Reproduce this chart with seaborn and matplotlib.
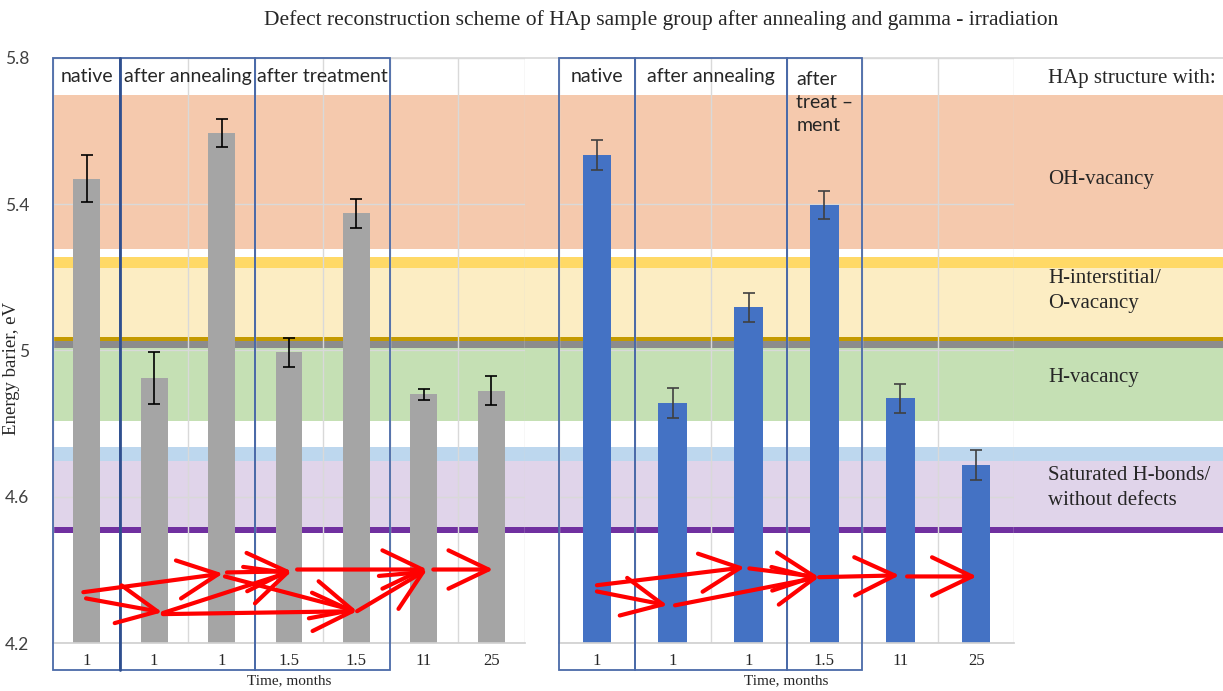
import numpy as np
import pandas as pd
import matplotlib
matplotlib.use('Agg')
import matplotlib.pyplot as plt
import matplotlib.transforms as mtransforms
from matplotlib.patches import Rectangle
import seaborn as sns

# Bars (energy barrier, eV, with error)
gray_times = ['1', '1', '1', '1.5', '1.5', '11', '25']
gray_energy = [5.47, 4.925, 5.595, 4.995, 5.375, 4.88, 4.89]
gray_err = [0.065, 0.07, 0.038, 0.04, 0.04, 0.015, 0.04]

blue_times = ['1', '1', '1', '1.5', '11', '25']
blue_energy = [5.535, 4.856, 5.118, 5.397, 4.869, 4.687]
blue_err = [0.04, 0.041, 0.04, 0.038, 0.04, 0.04]

# stage boxes: first bar, last bar, label
gray_stages = [(0, 0, 'native'), (1, 2, 'after annealing'), (3, 4, 'after treatment')]
blue_stages = [(0, 0, 'native'), (1, 2, 'after annealing'), (3, 3, 'after\ntreat –\nment')]

# coloured energy bands behind the bars
band_low = [5.278, 5.226, 5.038, 5.027, 5.008, 4.807, 4.698, 4.518, 4.500]
band_high = [5.700, 5.256, 5.226, 5.038, 5.027, 5.008, 4.736, 4.698, 4.518]
band_colors = ['#F5C9AD', '#FFD966', '#FCEDC3', '#C49A00', '#8C8C8C',
               '#C5E0B4', '#BDD7EE', '#E0D4EA', '#7030A0']

band_names = ['HAp structure with:', 'OH-vacancy', 'H-interstitial/\nO-vacancy',
              'H-vacancy', 'Saturated H-bonds/\nwithout defects']
band_name_y = [5.743, 5.468, 5.163, 4.927, 4.624]

# hand drawn red arrows (x in bar index, y in eV): x0, y0, x1, y1
gray_arrows = [(-0.05, 4.339, 2.02, 4.390), (-0.01, 4.322, 1.12, 4.284),
               (1.13, 4.279, 4.01, 4.287), (1.13, 4.282, 3.04, 4.396),
               (2.08, 4.393, 3.04, 4.396), (2.05, 4.382, 4.01, 4.287),
               (3.12, 4.401, 5.05, 4.401), (4.01, 4.287, 5.05, 4.401),
               (5.14, 4.401, 6.03, 4.401)]
blue_arrows = [(0.0, 4.358, 1.95, 4.407), (0.0, 4.341, 0.93, 4.303),
               (1.03, 4.303, 2.93, 4.380), (2.01, 4.404, 2.93, 4.380),
               (2.93, 4.380, 3.99, 4.385), (4.09, 4.382, 5.01, 4.382)]

serif = 'Liberation Serif'
sans = 'Lato'
yticks = [4.2, 4.6, 5.0, 5.4, 5.8]

sns.set_theme(style='white')
plt.rcParams['font.family'] = ['DejaVu Sans']

W, H = 1223, 691
fig = plt.figure(figsize=(W / 100, H / 100), dpi=100)

def box(x0, x1):
    return [x0 / W, 1 - 643 / H, (x1 - x0) / W, 585 / H]

ax_bg = fig.add_axes(box(53, 1223), zorder=0)
ax1 = fig.add_axes(box(53, 525), zorder=1)
ax2 = fig.add_axes(box(559, 1014), zorder=1)

# background bands
ax_bg.set_xlim(0, 1)
ax_bg.set_ylim(4.2, 5.8)
for lo, hi, c in zip(band_low, band_high, band_colors):
    ax_bg.axhspan(lo, hi, color=c, lw=0)
for name, y in zip(band_names, band_name_y):
    ax_bg.text((1048 - 53) / 1170, y, name, va='center', ha='left',
               fontsize=15, family=serif, color='#262626', linespacing=1.4)
ax_bg.set_xticks([])
ax_bg.set_yticks(yticks)
ax_bg.set_yticklabels(['4.2', '4.6', '5', '5.4', '5.8'], family=sans, fontsize=12.5, color='#404040')
ax_bg.tick_params(axis='y', length=0, pad=17)
for s in ['left', 'right', 'bottom']:
    ax_bg.spines[s].set_visible(False)
ax_bg.spines['top'].set_color('#D9D9D9')
ax_bg.set_ylabel('Energy barier, eV', family=serif, fontsize=13.5, color='#262626')
ax_bg.yaxis.set_label_coords(-33 / 1170, 0.47)


def draw_group(ax, times, energy, err, color, ecolor, width, stages, arrows):
    df = pd.DataFrame({'pos': np.arange(len(times)), 'energy': energy})
    sns.barplot(data=df, x='pos', y='energy', color=color, saturation=1,
                width=width, errorbar=None, linewidth=0, ax=ax, zorder=2)
    ax.errorbar(df['pos'], df['energy'], yerr=err, fmt='none', ecolor=ecolor,
                elinewidth=1.2, capsize=4, capthick=1.2, zorder=3)
    ax.set_facecolor('none')
    ax.set_ylim(4.2, 5.8)
    ax.set_xlim(-0.5, len(times) - 0.5)
    ax.set_yticks(yticks)
    ax.set_yticklabels([])
    ax.set_xticks(np.arange(len(times)))
    ax.set_xticklabels(times, family=serif, fontsize=12, color='#262626')
    ax.set_xticks(np.arange(-0.5, len(times), 1), minor=True)
    ax.tick_params(which='both', length=0)
    ax.tick_params(axis='x', pad=7)
    ax.grid(axis='y', color='#D9D9D9', lw=1)
    ax.grid(axis='x', which='minor', color='#D9D9D9', lw=1)
    ax.grid(axis='x', which='major', visible=False)
    ax.set_axisbelow(True)
    for s in ['left', 'right', 'top']:
        ax.spines[s].set_visible(False)
    ax.spines['bottom'].set_color('#D0D0D0')
    ax.set_xlabel('Time, months', family=serif, fontsize=11, color='#262626', labelpad=4)
    ax.set_ylabel('')

    trans = mtransforms.blended_transform_factory(ax.transData, ax.transAxes)
    bottom = -27 / 585
    for first, last, label in stages:
        ax.add_patch(Rectangle((first - 0.5, bottom), last - first + 1, 1 - bottom,
                               transform=trans, fill=False, edgecolor='#4A6AA8',
                               lw=1.3, clip_on=False, zorder=4))
        if '\n' in label:
            ax.text(first - 0.5 + 10 / 76, 0.978, label, transform=trans, ha='left', va='top',
                    family=sans, fontsize=14, color='#262626', linespacing=1.45, zorder=5)
        else:
            ax.text((first + last) / 2, 0.969, label, transform=trans, ha='center', va='center',
                    family=sans, fontsize=14, color='#262626', zorder=5)

    for x0, y0, x1, y1 in arrows:
        ax.annotate('', xy=(x1, y1), xytext=(x0, y0),
                    arrowprops=dict(arrowstyle='->,head_length=2.4,head_width=1.15',
                                    mutation_scale=12, color='red', lw=3,
                                    shrinkA=0, shrinkB=0), zorder=6)


draw_group(ax1, gray_times, gray_energy, gray_err, '#A5A5A5', 'black', 0.4, gray_stages, gray_arrows)
draw_group(ax2, blue_times, blue_energy, blue_err, '#4472C4', '#404040', 0.38, blue_stages, blue_arrows)

# darker divider after the first "native" box in the left group
ax1.axvline(0.5, ymin=-27 / 585, ymax=1, color='#2F4F8F', lw=2, clip_on=False, zorder=4)

fig.text(661 / W, 1 - 20 / H, 'Defect reconstruction scheme of HAp sample group after annealing and gamma - irradiation',
         ha='center', va='center', family=serif, fontsize=15.5, color='#262626')

fig.savefig('out.png', dpi=100, facecolor='white')
